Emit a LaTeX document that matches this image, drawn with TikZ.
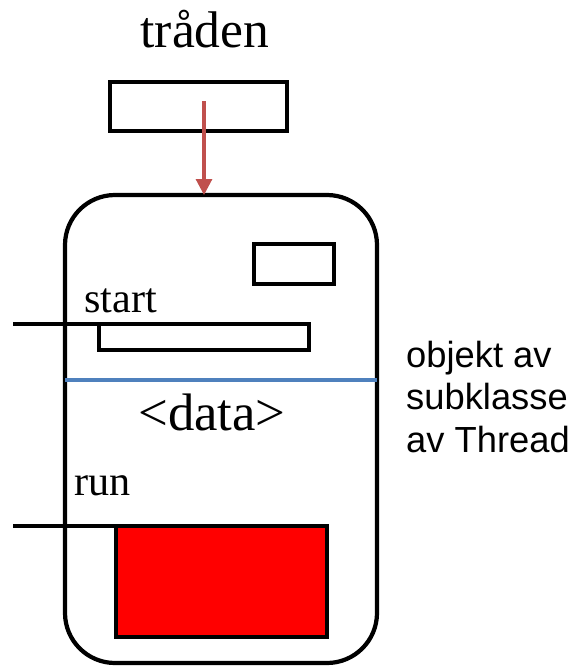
\documentclass[tikz,border=0pt]{standalone}
\usepackage{fontspec}
\setmainfont{Liberation Serif}
\newfontfamily\sansfont{Liberation Sans}
\usepackage{xcolor}
\usetikzlibrary{positioning, arrows.meta}
\definecolor{colorArrow}{HTML}{C0504D}
\definecolor{colorLine}{HTML}{4F81BD}
\definecolor{colorRun}{HTML}{FF0000}
\newcommand{\px}[1]{#1*0.03cm}

\begin{document}
\begin{tikzpicture}[x=0.03cm, y=-0.03cm,
        boks/.style={draw=black, line width=2.6pt, inner sep=0pt, outer sep=0pt},
        tekst/.style={inner sep=0pt, anchor=base west, font=\fontsize{36}{40}\selectfont},
        sidetekst/.style={inner sep=0pt, anchor=base west, font=\sansfont\fontsize{31}{36}\selectfont}]
        \useasboundingbox (0,0) rectangle (574,668);

        \node[anchor=base, inner sep=0pt, font=\fontsize{44}{48}\selectfont] (tittel) at (205,47) {tråden};
        \node[boks, minimum width=\px{177}, minimum height=\px{49}] (traad) at (198.5,106.5) {};
        \node[draw=black, line width=3.6pt, rounded corners=1.5cm, inner sep=0pt, outer sep=0pt,
              minimum width=\px{312}, minimum height=\px{468}] (objekt) at (221,429) {};
        \node[boks, minimum width=\px{80}, minimum height=\px{40}] (liten) at (294,264) {};

        \node[tekst] (start) at (84,312) {start};
        \node[boks, minimum width=\px{210}, minimum height=\px{26}] (startboks) at (204,337) {};
        \coordinate (startinn) at (13,324);
        \draw[line width=2.6pt] (startinn) -- ([xshift=\px{18}]startboks.north west);

        \coordinate (skille) at (0,380);
        \draw[colorLine, line width=3.4pt] (objekt.west |- skille) -- (objekt.east |- skille);

        \node[anchor=base, inner sep=0pt, font=\fontsize{45}{50}\selectfont] (data) at (212,430) {<data>};

        \node[tekst] (run) at (74,495) {run};
        \node[boks, fill=colorRun, minimum width=\px{211}, minimum height=\px{111}] (runboks) at (221.5,581.5) {};
        \coordinate (runinn) at (13,526);
        \draw[line width=2.6pt] (runinn) -- ([xshift=\px{17}]runboks.north west);

        \coordinate (pilstart) at (204,101);
        \draw[colorArrow, line width=2.6pt, -{Triangle[length=\px{16}, width=\px{16}]}] (pilstart) -- (pilstart |- objekt.north);

        \node[sidetekst] (linje1) at (406,367) {objekt av};
        \node[sidetekst] (linje2) at (406,409) {subklasse};
        \node[sidetekst] (linje3) at (406,452) {av Thread};
    \end{tikzpicture}
\end{document}
